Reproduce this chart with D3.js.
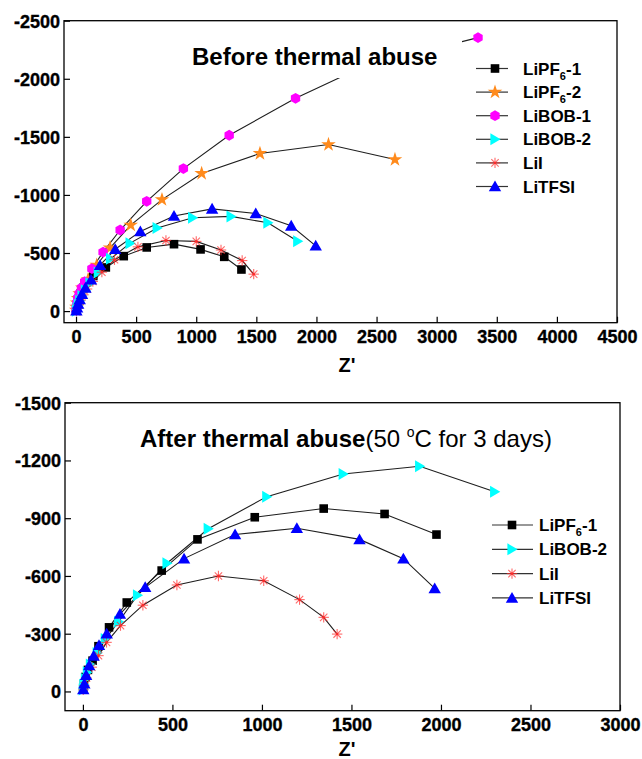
<!DOCTYPE html>
<html><head><meta charset="utf-8">
<script src="https://cdn.jsdelivr.net/npm/d3@7"></script>
<style>html,body{margin:0;padding:0;background:#fff;}svg{display:block;font-family:"Liberation Sans",Arial,sans-serif;}</style>
</head><body>
<script>
// ---------- DATA ----------
const seriesNames = ["LiPF6-1","LiPF6-2","LiBOB-1","LiBOB-2","LiI","LiTFSI"];
// Top panel: before thermal abuse (Z', Z'')
const pf1TopX  = [2,6,12,22,38,60,92,144,248,397,588,815,1036,1233,1376];
const pf1TopY  = [-5,-30,-65,-105,-150,-200,-250,-302,-376,-473,-548,-576,-531,-467,-358];
const pf2TopX  = [1,4,9,17,30,52,100,172,283,455,715,1045,1530,2100,2653];
const pf2TopY  = [-8,-35,-70,-110,-150,-200,-270,-395,-545,-740,-960,-1185,-1357,-1434,-1305];
const bob1TopX = [1,3,7,14,26,45,72,132,225,367,588,893,1274,1826,2400,3344];
const bob1TopY = [-8,-35,-70,-110,-150,-200,-253,-365,-508,-698,-945,-1227,-1514,-1832,-2110,-2354];
const bob2TopX = [4,10,19,32,50,78,116,185,287,450,675,970,1290,1596,1844];
const bob2TopY = [-3,-25,-55,-90,-130,-180,-240,-332,-450,-585,-715,-803,-815,-760,-602];
const liiTopX  = [4,12,24,40,62,92,140,215,320,515,748,1000,1206,1382,1478];
const liiTopY  = [-3,-25,-55,-95,-140,-190,-255,-335,-442,-553,-608,-600,-526,-435,-318];
const tfsiTopX = [3,9,18,31,50,78,125,200,326,535,815,1132,1495,1790,1994];
const tfsiTopY = [-4,-30,-62,-100,-145,-200,-270,-395,-532,-686,-819,-880,-840,-734,-562];
// Bottom panel: after thermal abuse
const pf1BotX  = [2,6,14,28,54,87,146,245,440,640,960,1345,1685,1975];
const pf1BotY  = [-10,-40,-75,-112,-160,-235,-333,-462,-628,-790,-905,-950,-922,-815];
const bob2BotX = [2,6,14,25,42,80,125,200,305,470,700,1027,1454,1881,2300];
const bob2BotY = [-10,-35,-65,-100,-140,-200,-272,-362,-500,-666,-845,-1012,-1130,-1170,-1037];
const liiBotX  = [2,8,20,50,87,132,210,335,525,757,1010,1210,1345,1420];
const liiBotY  = [-8,-30,-70,-126,-186,-255,-342,-448,-553,-600,-575,-477,-385,-298];
const tfsiBotX = [2,8,18,35,60,90,133,207,348,565,850,1195,1545,1790,1965];
const tfsiBotY = [-10,-40,-85,-135,-185,-240,-300,-402,-541,-690,-815,-848,-790,-690,-535];
// Ticks
const topXTicks = [0,500,1000,1500,2000,2500,3000,3500,4000,4500];
const topYTicks = [0,-500,-1000,-1500,-2000,-2500];
const botXTicks = [0,500,1000,1500,2000,2500,3000];
const botYTicks = [0,-300,-600,-900,-1200,-1500];
const axisLabel = "Z'";
const topTitle = "Before thermal abuse";
const botTitleBold = "After thermal abuse";

// ---------- STYLE ----------
const style = {
  "LiPF6-1": {color:"#000000", shape:"square"},
  "LiPF6-2": {color:"#ff8a1c", shape:"star"},
  "LiBOB-1": {color:"#ff00ff", shape:"hex"},
  "LiBOB-2": {color:"#00ffff", shape:"triRight"},
  "LiI":     {color:"#ff2a2a", shape:"asterisk"},
  "LiTFSI":  {color:"#0000ff", shape:"triUp"}
};
const zip = (xs, ys) => xs.map((x,i)=>({x, y: ys[i]}));

const svg = d3.select("body").append("svg").attr("width",642).attr("height",759);

function drawMarker(g, shape, color, cx, cy){
  if(shape==="square"){
    g.append("rect").attr("x",cx-4.3).attr("y",cy-4.3).attr("width",8.6).attr("height",8.6).attr("fill",color);
  } else if(shape==="star"){
    g.append("path").attr("transform",`translate(${cx},${cy})`).attr("d",d3.symbol(d3.symbolStar,66)()).attr("fill",color);
  } else if(shape==="hex"){
    const r=5.4, pts=d3.range(6).map(i=>{const a=Math.PI/6+i*Math.PI/3;return [cx+r*Math.cos(a),cy+r*Math.sin(a)];});
    g.append("path").attr("d","M"+pts.join("L")+"Z").attr("fill",color);
  } else if(shape==="triRight"){
    g.append("path").attr("d",`M${cx+5.6},${cy}L${cx-4.6},${cy-6}L${cx-4.6},${cy+6}Z`).attr("fill",color);
  } else if(shape==="triUp"){
    g.append("path").attr("d",`M${cx},${cy-6}L${cx+6.2},${cy+4.8}L${cx-6.2},${cy+4.8}Z`).attr("fill",color);
  } else if(shape==="asterisk"){
    const r=5.2;
    [0,45,90,135].forEach(a=>{
      const t=a*Math.PI/180;
      g.append("line").attr("x1",cx-r*Math.cos(t)).attr("y1",cy-r*Math.sin(t))
        .attr("x2",cx+r*Math.cos(t)).attr("y2",cy+r*Math.sin(t))
        .attr("stroke",color).attr("stroke-width",1.1).attr("stroke-opacity",0.7);
    });
    g.append("circle").attr("cx",cx).attr("cy",cy).attr("r",1.2).attr("fill",color);
  }
}

function legendLabel(text, name){
  const m = name.match(/^LiPF6(-\d)$/);
  if(m){
    text.append("tspan").text("LiPF");
    text.append("tspan").text("6").attr("font-size",11).attr("dy",5);
    text.append("tspan").text(m[1]).attr("dy",-5);
  } else text.text(name);
}

function panel(cfg){
  const x = d3.scaleLinear().domain(cfg.xDom).range([cfg.left,cfg.right]);
  const y = d3.scaleLinear().domain(cfg.yDom).range([cfg.bottom,cfg.top]);
  const g = svg.append("g");
  const line = d3.line().x(d=>x(d.x)).y(d=>y(d.y));
  cfg.series.forEach(s=>{
    g.append("path").datum(s.data).attr("d",line).attr("fill","none").attr("stroke","#1e1e1e").attr("stroke-width",1.1);
  });
  cfg.series.forEach(s=>{
    const st=style[s.name];
    s.data.forEach(d=>drawMarker(g, st.shape, st.color, x(d.x), y(d.y)));
  });
  if(cfg.titleBox){
    g.append("rect").attr("x",cfg.titleBox[0]).attr("y",cfg.titleBox[1]).attr("width",cfg.titleBox[2]).attr("height",cfg.titleBox[3]).attr("fill","#fff");
  }
  const t = g.append("text").attr("x",cfg.titleX).attr("y",cfg.titleY).attr("font-size",24).attr("fill","#000");
  t.append("tspan").attr("font-weight","bold").text(cfg.title);
  if(cfg.titleExtra){
    t.append("tspan").attr("font-weight","normal").text("(50 ");
    t.append("tspan").attr("font-weight","normal").attr("font-size",14).attr("dy",-10).text("o");
    t.append("tspan").attr("font-weight","normal").attr("dy",10).text("C for 3 days)");
  }
  const ax = g.append("g").attr("transform",`translate(0,${cfg.bottom})`)
    .call(d3.axisBottom(x).tickValues(cfg.xTicks).tickSize(-6).tickPadding(8).tickFormat(d=>String(d)));
  const ay = g.append("g").attr("transform",`translate(${cfg.left},0)`)
    .call(d3.axisLeft(y).tickValues(cfg.yTicks).tickSize(-6).tickPadding(4).tickFormat(d=>String(d)));
  [ax,ay].forEach(a=>{
    a.attr("font-size",18).attr("font-family","Liberation Sans, Arial, sans-serif").attr("font-weight","bold");
    a.select(".domain").remove();
    a.selectAll(".tick line").attr("stroke","#000").attr("stroke-width",1.2);
    a.selectAll(".tick text").attr("font-weight","bold").attr("fill","#000")
      .attr("stroke","#000").attr("stroke-width",0.35);
  });
  ay.selectAll(".tick text").attr("dy","0.36em");
  g.append("rect").attr("x",cfg.left).attr("y",cfg.top).attr("width",cfg.right-cfg.left).attr("height",cfg.bottom-cfg.top)
    .attr("fill","none").attr("stroke","#000").attr("stroke-width",1.3);
  g.append("text").attr("x",cfg.zx).attr("y",cfg.zy).attr("text-anchor","middle").attr("font-size",20).attr("font-weight","bold").text(axisLabel);
  cfg.series.forEach((s,i)=>{
    const st=style[s.name];
    const ly = cfg.legY + i*cfg.legStep;
    g.append("line").attr("x1",cfg.legX1).attr("x2",cfg.legX2).attr("y1",ly).attr("y2",ly).attr("stroke","#333").attr("stroke-width",1.2);
    drawMarker(g, st.shape, st.color, cfg.legM, ly);
    const tx = g.append("text").attr("x",cfg.legT).attr("y",ly+6).attr("font-size",17).attr("font-weight","bold");
    legendLabel(tx, s.name);
  });
}

panel({
  xDom:[-100,4500], yDom:[100,-2500], left:64, right:617, top:20.7, bottom:322.7,
  xTicks: topXTicks, yTicks: topYTicks,
  series:[
    {name:"LiPF6-1", data:zip(pf1TopX,pf1TopY)},
    {name:"LiPF6-2", data:zip(pf2TopX,pf2TopY)},
    {name:"LiBOB-1", data:zip(bob1TopX,bob1TopY)},
    {name:"LiBOB-2", data:zip(bob2TopX,bob2TopY)},
    {name:"LiI",     data:zip(liiTopX,liiTopY)},
    {name:"LiTFSI",  data:zip(tfsiTopX,tfsiTopY)}
  ],
  title: topTitle, titleX:192, titleY:65, titleBox:[186,40,276,38],
  zx:347, zy:372,
  legY:68.5, legStep:23.6, legX1:476, legX2:508, legM:495, legT:523
});

panel({
  xDom:[-100,3000], yDom:[100,-1500], left:65, right:620, top:402.7, bottom:710.7,
  xTicks: botXTicks, yTicks: botYTicks,
  series:[
    {name:"LiPF6-1", data:zip(pf1BotX,pf1BotY)},
    {name:"LiBOB-2", data:zip(bob2BotX,bob2BotY)},
    {name:"LiI",     data:zip(liiBotX,liiBotY)},
    {name:"LiTFSI",  data:zip(tfsiBotX,tfsiBotY)}
  ],
  title: botTitleBold, titleExtra:true, titleX:140, titleY:447,
  zx:347, zy:756,
  legY:525, legStep:24.3, legX1:492, legX2:533, legM:512, legT:539
});
</script>
</body></html>
